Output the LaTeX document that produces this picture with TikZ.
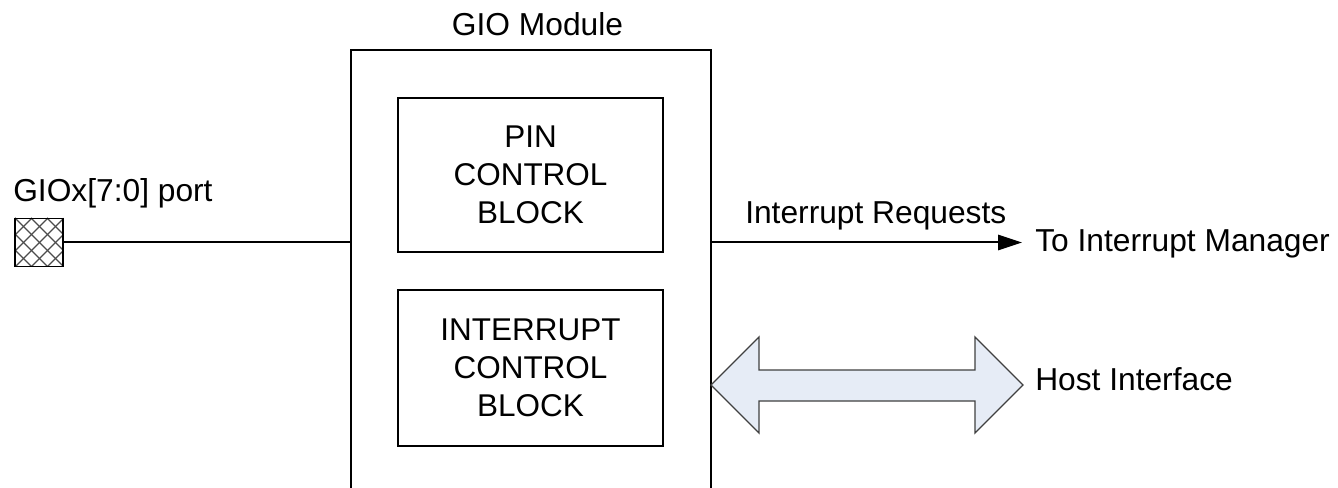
\documentclass[tikz,border=0pt]{standalone}
\usepackage{fontspec}
\setmainfont{Liberation Sans}
\usetikzlibrary{arrows.meta}
\definecolor{hostfill}{HTML}{E6ECF6}
\definecolor{hostline}{HTML}{404040}
\tikzset{
  x=0.75pt, y=-0.75pt,
  lbl/.style={inner sep=0pt, font=\fontsize{23.8}{28.5}\selectfont},
  blockbox/.style={draw, line width=1.5pt, inner sep=0pt, align=center,
     minimum width=198.75pt, font=\fontsize{23.6}{28.5}\selectfont},
  wire/.style={line width=1.5pt},
}
\begin{document}
\begin{tikzpicture}
\useasboundingbox (0,0) rectangle (1338,488);
\clip (0,0) rectangle (1338,488);
% outer module box (open past the bottom edge)
\node[draw, line width=1.5pt, minimum width=270pt, minimum height=352.5pt, inner sep=0pt] (outer) at (531,285) {};
\node[lbl, anchor=base] (title) at (537.5,36) {GIO Module};
% inner blocks
\node[blockbox, minimum height=115.5pt] (pin) at (530.5,175) {PIN\\CONTROL\\BLOCK};
\node[blockbox, minimum height=117pt] (intc) at (530.5,368) {INTERRUPT\\CONTROL\\BLOCK};
% port
\node[draw, line width=1.2pt, minimum size=36pt, inner sep=0pt] (port) at (39,242.5) {};
\begin{scope}
  \clip (15,218) rectangle (63,267);
  \foreach \k in {-48,-32,...,48} {
    \draw[line width=0.9pt, black!70] (15+\k,218) -- ++(49,49);
    \draw[line width=0.9pt, black!70] (15+\k,267) -- ++(49,-49);
  }
\end{scope}
\node[draw, line width=1.2pt, minimum size=36pt, inner sep=0pt] at (port) {};
\node[lbl, anchor=base west] (portlbl) at (13,202) {GIOx[7:0] port};
\draw[wire] (port.east) -- (port.east -| outer.west);
% interrupt requests
\coordinate (irqend) at (1022,242.5);
\draw[wire, -{Triangle[length=18pt, width=11.5pt]}] (port.east -| outer.east) -- (irqend);
\node[lbl, anchor=base west] (irq) at (745,224) {Interrupt Requests};
\node[lbl, anchor=base west] (tim) at (1035,252) {To Interrupt Manager};
% host interface double arrow
\coordinate (hl) at (711,385);
\coordinate (hr) at (1023,385);
\draw[line width=1pt, draw=hostline, fill=hostfill, line join=miter]
  (hl) -- (759,337) -- (759,370) -- (975,370) -- (975,337) -- (hr)
  -- (975,433) -- (975,401) -- (759,401) -- (759,433) -- cycle;
\node[lbl, anchor=base west] (host) at (1035,390) {Host Interface};
\end{tikzpicture}
\end{document}
